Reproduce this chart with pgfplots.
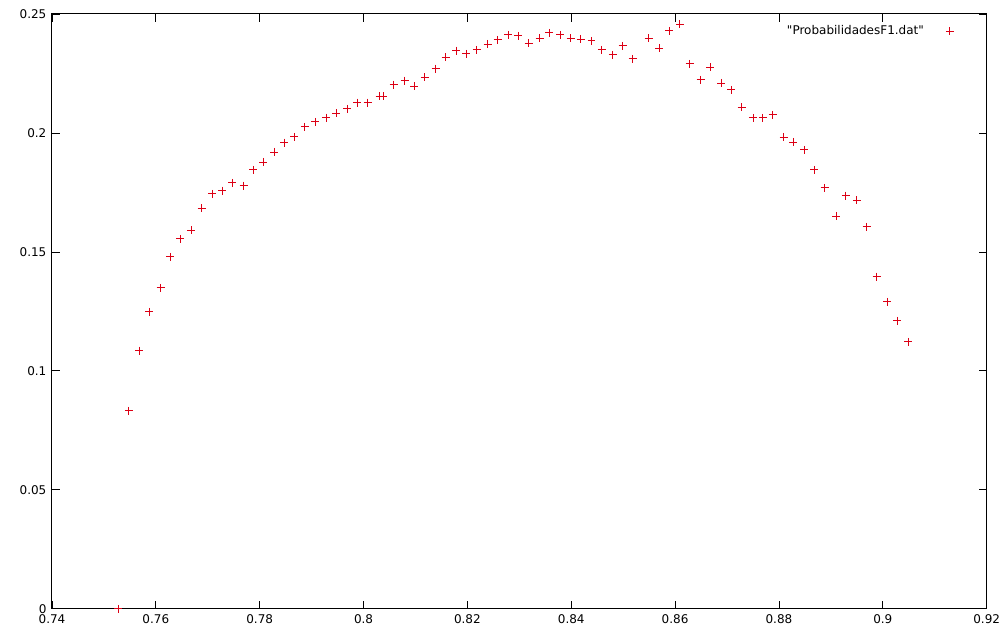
\documentclass[border=0pt]{standalone}
\usepackage{pgfplots}
\pgfplotsset{compat=1.18}
\usepackage{fontspec}
\setmainfont{DejaVu Sans}
\definecolor{gpred}{RGB}{220,0,20}

\pgfplotstableread{
x y
0.7528 0.0000
0.7548 0.0832
0.7568 0.1085
0.7587 0.1248
0.7609 0.1349
0.7628 0.1479
0.7647 0.1555
0.7668 0.1592
0.7688 0.1683
0.7709 0.1744
0.7728 0.1758
0.7747 0.1790
0.7769 0.1779
0.7788 0.1845
0.7807 0.1878
0.7828 0.1920
0.7847 0.1959
0.7867 0.1984
0.7887 0.2026
0.7907 0.2047
0.7928 0.2064
0.7947 0.2082
0.7969 0.2101
0.7988 0.2127
0.8008 0.2127
0.8031 0.2155
0.8038 0.2155
0.8058 0.2203
0.8079 0.2220
0.8098 0.2197
0.8118 0.2235
0.8139 0.2270
0.8158 0.2319
0.8179 0.2346
0.8198 0.2332
0.8218 0.2349
0.8239 0.2374
0.8258 0.2391
0.8279 0.2412
0.8298 0.2408
0.8318 0.2378
0.8339 0.2399
0.8358 0.2421
0.8379 0.2412
0.8399 0.2399
0.8418 0.2395
0.8439 0.2387
0.8459 0.2349
0.8480 0.2328
0.8499 0.2366
0.8518 0.2311
0.8549 0.2399
0.8569 0.2356
0.8589 0.2429
0.8609 0.2458
0.8628 0.2290
0.8649 0.2223
0.8668 0.2277
0.8689 0.2210
0.8708 0.2181
0.8728 0.2109
0.8750 0.2063
0.8769 0.2063
0.8788 0.2076
0.8809 0.1983
0.8828 0.1962
0.8849 0.1929
0.8868 0.1845
0.8888 0.1769
0.8910 0.1651
0.8929 0.1737
0.8950 0.1718
0.8969 0.1605
0.8988 0.1396
0.9009 0.1290
0.9028 0.1210
0.9049 0.1122
}\probdata

\begin{document}
\fontsize{9}{11}\selectfont
\begin{tikzpicture}
  \begin{axis}[
      scale only axis,
      width=701.25pt, height=446.25pt,
      xmin=0.74, xmax=0.92,
      ymin=0, ymax=0.25,
      xtick={0.74,0.76,...,0.921},
      ytick={0,0.05,0.1,0.15,0.2,0.25},
      scaled ticks=false,
      /pgf/number format/fixed,
      /pgf/number format/assume math mode=true,
      tick align=inside,
      major tick length=6pt,
      tick style={black, line width=0.6pt},
      axis line style={black, line width=0.75pt},
      xticklabel style={yshift=-1pt},
      yticklabel style={xshift=-1pt},
      legend plot pos=right,
      legend cell align=right,
      legend image code/.code={%
        \path (-0.6cm,0cm) (0.35cm,0cm);
        \draw[#1] plot coordinates {(0cm,0cm)};},
      legend style={draw=none, fill=none, inner sep=0pt,
        at={(axis description cs:0.9755,0.985)}, anchor=north east,
        font=\fontsize{9}{11}\selectfont},
    ]
    \addplot[only marks, mark=+, mark size=3pt, color=gpred, line width=0.7pt]
      table[x=x, y=y] {\probdata};
    \addlegendentry{\textquotedbl ProbabilidadesF1.dat\textquotedbl}
  \end{axis}
  \path (current axis.south west) ++(-39pt,-21.75pt);
  \path (current axis.north east) ++(12.75pt,10.5pt);
\end{tikzpicture}
\end{document}
